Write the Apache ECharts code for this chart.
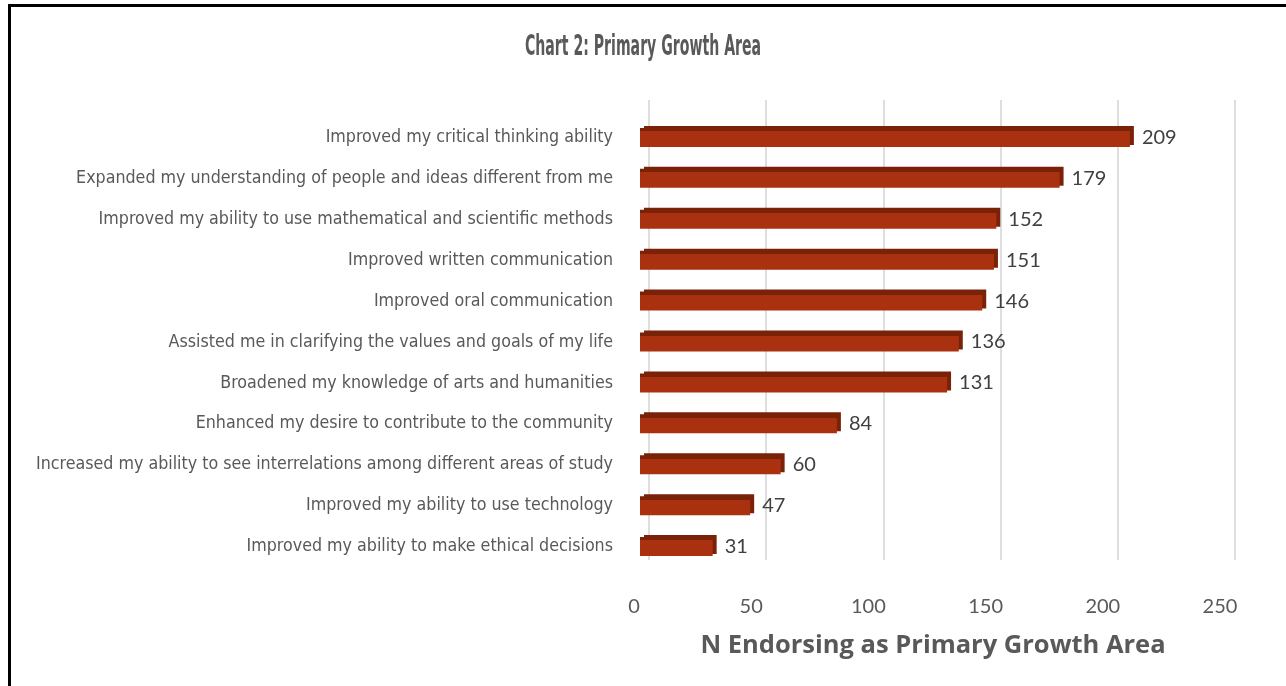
<!DOCTYPE html>
<html>
<head>
<meta charset="utf-8">
<title>Chart 2: Primary Growth Area</title>
<script src="https://cdn.jsdelivr.net/npm/echarts@6/dist/echarts.min.js"></script>
<style>
  html, body { margin: 0; padding: 0; background: #fff; }
  #frame { position: absolute; left: 8px; top: 4px; right: 0; bottom: 0;
           border-top: 3px solid #000; border-left: 3px solid #000; }
  #chart { position: absolute; left: 0; top: 0; width: 1286px; height: 686px; }
</style>
</head>
<body>
<div id="frame"></div>
<div id="chart"></div>
<script>
// growth areas, top to bottom as in the chart
const areas = [
  "Improved my critical thinking ability",
  "Expanded my understanding of people and ideas different from me",
  "Improved my ability to use mathematical and scientific methods",
  "Improved written communication",
  "Improved oral communication",
  "Assisted me in clarifying the values and goals of my life",
  "Broadened my knowledge of arts and humanities",
  "Enhanced my desire to contribute to the community",
  "Increased my ability to see interrelations among different areas of study",
  "Improved my ability to use technology",
  "Improved my ability to make ethical decisions"
];
const counts = [209, 179, 152, 151, 146, 136, 131, 84, 60, 47, 31];
const xTicks = [0, 50, 100, 150, 200, 250];

const narrow = '"DejaVu Sans Condensed", "Liberation Sans Narrow", sans-serif';
const chart = echarts.init(document.getElementById("chart"));

chart.setOption({
  animation: false,
  // title as a squeezed graphic text, the original uses a very condensed face
  graphic: [{
    type: "text", x: 643, y: 48, scaleX: 0.56,
    style: {
      text: "Chart 2: Primary Growth Area",
      font: 'bold 28px "DejaVu Sans Condensed", sans-serif',
      fill: "#595959", textAlign: "center", textVerticalAlign: "middle"
    }
  }],
  grid: [
    { left: 640, right: 60, top: 117, bottom: 119 },
    // back wall gridlines, drawn a little offset like the 3D original
    { left: 649, right: 51, top: 100, bottom: 126 }
  ],
  xAxis: [
    {
      type: "value", gridIndex: 0, min: xTicks[0], max: xTicks[xTicks.length - 1], interval: 50,
      axisLine: { show: false }, axisTick: { show: false }, splitLine: { show: false },
      axisLabel: { margin: 30, padding: [0, 12, 0, 0], fontFamily: "Lato, sans-serif", fontSize: 20, color: "#595959" },
      name: "N Endorsing as Primary Growth Area", nameLocation: "middle", nameGap: 66,
      nameTextStyle: { fontFamily: '"Open Sans", sans-serif', fontWeight: "bold", fontSize: 25.5, color: "#595959" }
    },
    {
      type: "value", gridIndex: 1, min: 0, max: 250, interval: 50,
      axisLine: { show: false }, axisTick: { show: false }, axisLabel: { show: false },
      splitLine: { show: true, lineStyle: { color: "#dedede", width: 2 } }
    }
  ],
  yAxis: [
    {
      type: "category", gridIndex: 0, data: areas, inverse: true,
      axisLine: { show: false }, axisTick: { show: false },
      axisLabel: { margin: 27, fontFamily: narrow, fontSize: 17.7, color: "#595959" }
    },
    { type: "category", gridIndex: 1, data: areas, show: false }
  ],
  series: [{
    type: "bar", xAxisIndex: 0, yAxisIndex: 0, data: counts, barWidth: 19, z: 3,
    itemStyle: {
      color: new echarts.graphic.LinearGradient(0, 0, 0, 1, [
        { offset: 0, color: "#7a2207" }, { offset: 0.18, color: "#7a2207" },
        { offset: 0.18, color: "#a9310f" }, { offset: 1, color: "#a9310f" }
      ]),
      shadowColor: "#7a2207", shadowOffsetX: 4, shadowOffsetY: -2, shadowBlur: 0
    },
    label: {
      show: true, position: "right", distance: 12,
      fontFamily: "Lato, sans-serif", fontSize: 20, color: "#404040"
    }
  }]
});
</script>
</body>
</html>
